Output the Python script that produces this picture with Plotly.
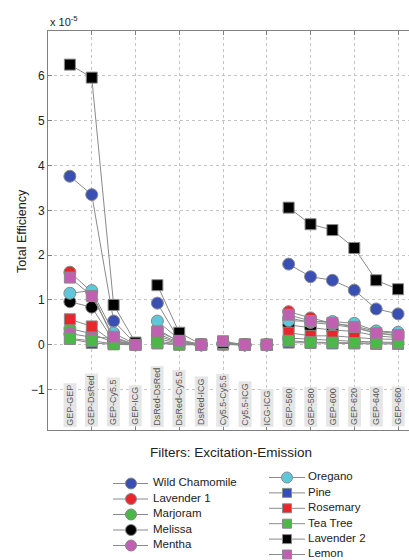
import plotly.graph_objects as go

# ---------------- data (Total Efficiency, in units of 1e-5) ----------------
categories = ["GEP-GEP", "GEP-DsRed", "GEP-Cy5.5", "GEP-ICG",
              "DsRed-DsRed", "DsRed-Cy5.5", "DsRed-ICG",
              "Cy5.5-Cy5.5", "Cy5.5-ICG", "ICG-ICG",
              "GEP-560", "GEP-580", "GEP-600", "GEP-620", "GEP-640", "GEP-660"]
# connected groups of category indices
groups = [[0, 1, 2, 3], [4, 5, 6], [7, 8], [9], [10, 11, 12, 13, 14, 15]]

series_names = ["Wild Chamomile", "Lavender 1", "Marjoram", "Melissa", "Mentha",
                "Oregano", "Pine", "Rosemary", "Tea Tree", "Lavender 2", "Lemon"]

wild_chamomile = [3.76, 3.35, 0.53, 0.02, 0.93, 0.10, 0.01, 0.03, 0.00, 0.00, 1.80, 1.52, 1.44, 1.22, 0.80, 0.69]
lavender_1     = [1.62, 1.18, 0.10, 0.01, 0.25, 0.05, 0.00, 0.02, 0.00, 0.00, 0.74, 0.60, 0.48, 0.42, 0.30, 0.25]
marjoram       = [0.36, 0.25, 0.05, 0.00, 0.08, 0.02, 0.00, 0.01, 0.00, 0.00, 0.15, 0.12, 0.10, 0.08, 0.06, 0.05]
melissa        = [0.96, 0.84, 0.08, 0.01, 0.20, 0.04, 0.00, 0.02, 0.00, 0.00, 0.44, 0.38, 0.33, 0.30, 0.20, 0.16]
mentha         = [0.25, 0.17, 0.15, 0.00, 0.35, 0.06, 0.00, 0.03, 0.00, 0.00, 0.60, 0.50, 0.45, 0.38, 0.26, 0.20]
oregano        = [1.15, 1.21, 0.26, 0.01, 0.53, 0.12, 0.00, 0.03, 0.00, 0.00, 0.54, 0.52, 0.52, 0.48, 0.31, 0.28]
pine           = [0.13, 0.04, 0.01, 0.00, 0.03, 0.01, 0.00, 0.01, 0.00, 0.00, 0.05, 0.04, 0.03, 0.03, 0.02, 0.02]
rosemary       = [0.57, 0.41, 0.06, 0.00, 0.14, 0.03, 0.00, 0.01, 0.00, 0.00, 0.27, 0.20, 0.20, 0.16, 0.13, 0.12]
tea_tree       = [0.14, 0.09, 0.02, 0.00, 0.04, 0.00, 0.00, 0.01, 0.00, 0.00, 0.09, 0.06, 0.05, 0.04, 0.04, 0.04]
lavender_2     = [6.25, 5.96, 0.89, 0.05, 1.33, 0.27, 0.01, 0.04, 0.01, 0.00, 3.06, 2.69, 2.56, 2.16, 1.44, 1.24]
lemon          = [1.50, 1.09, 0.18, 0.00, 0.30, 0.09, 0.00, 0.08, 0.00, 0.00, 0.67, 0.53, 0.49, 0.40, 0.26, 0.22]

series_values = [wild_chamomile, lavender_1, marjoram, melissa, mentha,
                 oregano, pine, rosemary, tea_tree, lavender_2, lemon]

y_tick_values = [-1, 0, 1, 2, 3, 4, 5, 6]

# ---------------- styles ----------------
colors = ["#3a4fb4", "#e8262b", "#4cb848", "#000000", "#c15fb3",
          "#5ec8d9", "#3450b8", "#e8262b", "#4cb848", "#000000", "#c15fb3"]
symbols = ["circle"] * 6 + ["square"] * 5
msizes = [12] * 6 + [11] * 5
FONT = "Arial, Liberation Sans, Helvetica, sans-serif"
W, H = 409, 560
ML, MT = 48, 31
PLOT_W = W - ML
PLOT_H = H - MT
MAIN_BOTTOM_PX = 430

fig = go.Figure()

# data traces
for name, vals, c, sym, ms in zip(series_names, series_values, colors, symbols, msizes):
    xs, ys = [], []
    for gi, g in enumerate(groups):
        if gi > 0:
            xs.append(None)
            ys.append(None)
        for i in g:
            xs.append(i + 1)
            ys.append(vals[i])
    fig.add_trace(go.Scatter(
        x=xs, y=ys, mode="lines+markers", name=name, showlegend=False,
        line=dict(color="#8a8a8a", width=1),
        marker=dict(symbol=sym, size=ms, color=c, line=dict(color="#8a8a8a", width=1)),
        connectgaps=False, xaxis="x", yaxis="y", cliponaxis=False,
    ))

# ---------------- manual legend (two columns) ----------------
legend_cols = [
    dict(idx=[0, 1, 2, 3, 4], x0=113, x1=148, xm=131, xt=153, y0=483.5, dy=15.5),
    dict(idx=[5, 6, 7, 8, 9, 10], x0=269, x1=305, xm=287, xt=308, y0=477.5, dy=15.4),
]
for col in legend_cols:
    tx, ty, tt = [], [], []
    for r, k in enumerate(col["idx"]):
        yy = col["y0"] + r * col["dy"]
        fig.add_trace(go.Scatter(
            x=[col["x0"], col["x1"]], y=[yy, yy], mode="lines", showlegend=False,
            line=dict(color="#8a8a8a", width=1), xaxis="x2", yaxis="y2", hoverinfo="skip"))
        fig.add_trace(go.Scatter(
            x=[col["xm"]], y=[yy], mode="markers", showlegend=False,
            marker=dict(symbol=symbols[k], size=msizes[k] - 1 if symbols[k] == "circle" else 9,
                        color=colors[k], line=dict(color="#8a8a8a", width=1)),
            xaxis="x2", yaxis="y2", hoverinfo="skip"))
        tx.append(col["xt"])
        ty.append(yy)
        tt.append(series_names[k])
    fig.add_trace(go.Scatter(
        x=tx, y=ty, text=tt, mode="text", textposition="middle right", showlegend=False,
        textfont=dict(family=FONT, size=11.5, color="#222"), xaxis="x2", yaxis="y2",
        hoverinfo="skip"))

# ---------------- category labels ----------------
annotations = []
for i, cat in enumerate(categories):
    annotations.append(dict(
        x=i + 1, y=-1.84, xref="x", yref="y", text=cat, showarrow=False,
        textangle=-90, xanchor="center", yanchor="bottom",
        font=dict(family=FONT, size=9, color="#555"),
        bgcolor="#e6e6e6", borderpad=1,
    ))

annotations.append(dict(
    x=0, y=(H - 21) / PLOT_H, xref="paper", yref="paper",
    text="x 10<sup>-5</sup>", showarrow=False, xanchor="left", yanchor="middle",
    font=dict(family=FONT, size=11, color="#222")))
annotations.append(dict(
    x=(22 - ML) / PLOT_W, y=(H - 231) / PLOT_H, xref="paper", yref="paper",
    text="Total Efficiency", showarrow=False, textangle=-90,
    xanchor="center", yanchor="middle",
    font=dict(family=FONT, size=12.5, color="#222")))
annotations.append(dict(
    x=(231 - ML) / PLOT_W, y=(H - 452) / PLOT_H, xref="paper", yref="paper",
    text="Filters: Excitation-Emission", showarrow=False,
    xanchor="center", yanchor="middle",
    font=dict(family=FONT, size=13.5, color="#222")))

fig.update_layout(
    width=W, height=H, autosize=False,
    margin=dict(l=ML, r=0, t=MT, b=0, pad=0),
    paper_bgcolor="white", plot_bgcolor="white",
    font=dict(family=FONT, color="#222"),
    annotations=annotations,
    xaxis=dict(domain=[0, 1], range=[0, 16.5], tickvals=list(range(2, 17, 2)),
               showticklabels=False, ticks="inside", ticklen=4, tickcolor="#808080",
               showline=True, linecolor="#808080", linewidth=1, mirror="ticks",
               showgrid=True, gridcolor="#c4c4c4", griddash="dot", gridwidth=1,
               zeroline=False, anchor="y"),
    yaxis=dict(domain=[(H - MAIN_BOTTOM_PX) / PLOT_H, 1], range=[-1.9, 7],
               tickvals=y_tick_values, ticks="inside", ticklen=4, tickcolor="#808080",
               showline=True, linecolor="#808080", linewidth=1, mirror=False,
               showgrid=True, gridcolor="#c4c4c4", griddash="dot", gridwidth=1,
               zeroline=False, tickfont=dict(size=12, color="#222"), anchor="x"),
    xaxis2=dict(domain=[0, 1], range=[ML, W], visible=False, anchor="y2"),
    yaxis2=dict(domain=[0, 100 / PLOT_H], range=[H, H - 100], visible=False, anchor="x2"),
)

fig.write_html("out.html")
